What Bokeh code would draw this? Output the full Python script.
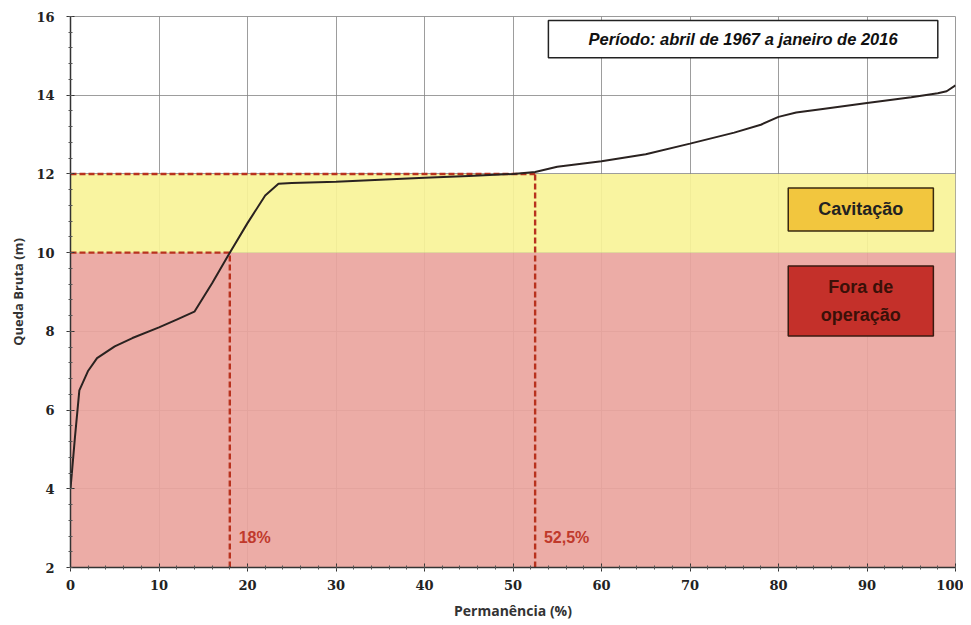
from bokeh.plotting import figure
from bokeh.models import Range1d, FixedTicker
from bokeh.core.properties import value
from bokeh.embed import file_html
from bokeh.resources import INLINE

# Curva de permanência
permanencia = [0, 0.5, 1, 2, 3, 5, 7, 10, 12, 14, 16, 18, 20, 22, 23.5, 25, 30, 35, 40,
               45, 50, 52.5, 55, 60, 65, 70, 75, 78, 80, 82, 85, 90, 95, 98, 99, 100]
queda = [4.0, 5.3, 6.5, 7.0, 7.32, 7.62, 7.83, 8.1, 8.3, 8.5, 9.22, 10.0, 10.75, 11.45,
         11.75, 11.77, 11.8, 11.85, 11.9, 11.95, 12.0, 12.05, 12.18, 12.32, 12.5, 12.77,
         13.05, 13.25, 13.45, 13.56, 13.65, 13.8, 13.95, 14.05, 14.1, 14.25]

# Zonas operacionais
zona_base = [2, 10]
zona_topo = [10, 12]
zona_cor = ["#EAA59E", "#F8F398"]

# Limites
limite_fora = 10
limite_cav = 12
perm_fora = 18
perm_cav = 52.5
rotulos_perm = ["18%", "52,5%"]

x_ticks = [0, 10, 20, 30, 40, 50, 60, 70, 80, 90, 100]
y_ticks = [2, 4, 6, 8, 10, 12, 14, 16]

p = figure(width=963, height=622, output_backend="svg", toolbar_location=None,
           x_range=Range1d(0, 100), y_range=Range1d(2, 16),
           min_border_left=70, min_border_right=8, min_border_top=16, min_border_bottom=54)
p.background_fill_color = "white"
p.outline_line_color = "#9a9a9a"

# zonas
p.quad(left=[0, 0], right=[100, 100], bottom=zona_base, top=zona_topo,
       fill_color=zona_cor, fill_alpha=0.92, line_color=None)

# linhas tracejadas
dash_col = "#B8321E"
p.line([0, perm_fora], [limite_fora, limite_fora], line_color=dash_col, line_width=2.4, line_dash="6 3")
p.line([perm_fora, perm_fora], [2, limite_fora], line_color=dash_col, line_width=2.4, line_dash="6 3")
p.line([0, perm_cav], [limite_cav, limite_cav], line_color=dash_col, line_width=2.4, line_dash="6 3")
p.line([perm_cav, perm_cav], [2, limite_cav], line_color=dash_col, line_width=2.4, line_dash="6 3")

# curva
p.line(permanencia, queda, line_color="#2a2220", line_width=2)

# rótulos de permanência
p.text(x=[perm_fora + 1.0, perm_cav + 1.0], y=[2.75, 2.75], text=rotulos_perm,
       text_color="#C0392B", text_font=value("Liberation Sans"), text_font_style="bold",
       text_font_size="16px", text_baseline="middle", text_align="left")

# caixa do período
p.quad(left=[54], right=[98], bottom=[14.95], top=[15.9], fill_color="white",
       line_color="#222222", line_width=1.5)
p.text(x=[76], y=[15.42], text=["Período: abril de 1967 a janeiro de 2016"],
       text_font=value("Liberation Sans"), text_font_style="bold italic",
       text_font_size="16.5px", text_align="center", text_baseline="middle", text_color="#111111")

# caixa Cavitação
p.quad(left=[81.1], right=[97.5], bottom=[10.55], top=[11.64], fill_color="#F2C63E",
       line_color="#3a2a10", line_width=1.5)
p.text(x=[89.3], y=[11.1], text=["Cavitação"], text_font=value("Liberation Sans"),
       text_font_style="bold", text_font_size="18px", text_align="center",
       text_baseline="middle", text_color="#222222")

# caixa Fora de operação
p.quad(left=[81.1], right=[97.5], bottom=[7.88], top=[9.66], fill_color="#C4302A",
       line_color="#3a1a10", line_width=1.5)
p.text(x=[89.3, 89.3], y=[9.12, 8.42], text=["Fora de", "operação"],
       text_font=value("Liberation Sans"), text_font_style="bold", text_font_size="18px",
       text_align="center", text_baseline="middle", text_color="#3a1008")

# eixos
for ax in (p.xaxis[0], p.yaxis[0]):
    ax.axis_line_color = "#333333"
    ax.axis_line_width = 1.5
    ax.major_tick_line_color = "#333333"
    ax.minor_tick_line_color = "#555555"
    ax.major_tick_in = 4
    ax.major_tick_out = 4
    ax.minor_tick_in = 2
    ax.minor_tick_out = 2
    ax.major_label_text_font = "DejaVu Serif"
    ax.major_label_text_font_style = "bold"
    ax.major_label_text_font_size = "13px"
    ax.major_label_text_color = "#222222"
    ax.axis_label_text_font = "Open Sans"
    ax.axis_label_text_font_style = "bold"
    ax.axis_label_text_color = "#333333"

p.xaxis[0].ticker = FixedTicker(ticks=x_ticks, minor_ticks=[v for v in range(0, 101, 2)])
p.yaxis[0].ticker = FixedTicker(ticks=y_ticks, minor_ticks=[2 + 0.4 * i for i in range(36)])
p.xaxis.axis_label = "Permanência (%)"
p.yaxis.axis_label = "Queda Bruta (m)"
p.xaxis.axis_label_text_font_size = "14px"
p.yaxis.axis_label_text_font_size = "13px"
p.xaxis.major_label_standoff = 8
p.yaxis.major_label_standoff = 12
p.xaxis.axis_label_standoff = 8
p.yaxis.axis_label_standoff = 6

p.xgrid.ticker = FixedTicker(ticks=x_ticks)
p.ygrid.ticker = FixedTicker(ticks=y_ticks)
p.grid.grid_line_color = "#858585"
p.grid.grid_line_width = 1
p.grid.grid_line_alpha = 0.8

open("out.html", "w").write(file_html(p, INLINE))
